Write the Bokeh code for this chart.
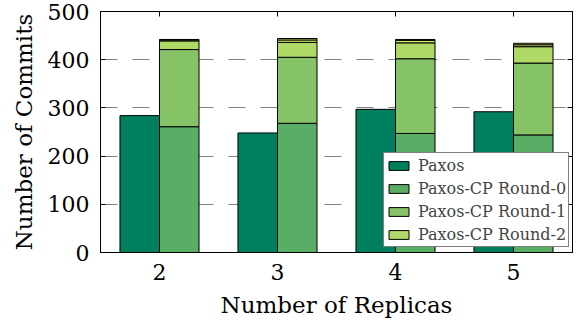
from bokeh.plotting import figure
from bokeh.models import (ColumnDataSource, Range1d, FixedTicker, LinearAxis,
                          Legend, LegendItem, CustomJSTickFormatter)
from bokeh.transform import dodge
from bokeh.embed import file_html
from bokeh.resources import INLINE

# ---- data ----
replicas = [2, 3, 4, 5]
paxos = [284, 248, 297, 292]
cp_round0 = [261, 268, 247, 244]
cp_round1 = [160, 137, 155, 149]
cp_round2 = [18, 31, 33, 34]
cp_round3 = [2, 5, 5, 4]
cp_round4 = [1, 3, 2, 3]
y_ticks = [0, 100, 200, 300, 400, 500]
legend_labels = ["Paxos", "Paxos-CP Round-0", "Paxos-CP Round-1", "Paxos-CP Round-2"]

colors = ["#007f5f", "#5aad64", "#86c366", "#afd966", "#d5ec68", "#eef767"]
FONT = "DejaVu Serif"

src = ColumnDataSource(dict(rep=replicas, paxos=paxos, r0=cp_round0, r1=cp_round1,
                            r2=cp_round2, r3=cp_round3, r4=cp_round4))

p = figure(width=577, height=321, output_backend="svg", toolbar_location=None,
           x_range=Range1d(1.5, 5.5), y_range=Range1d(0, 500),
           min_border_left=100, min_border_right=5, min_border_top=11, min_border_bottom=69)

BW = 0.335
r_paxos = p.vbar(x=dodge("rep", -BW / 2), top="paxos", width=BW, source=src,
                 fill_color=colors[0], line_color="black", line_width=1)
stack = p.vbar_stack(["r0", "r1", "r2", "r3", "r4"], x=dodge("rep", BW / 2), width=BW,
                     source=src, fill_color=colors[1:], line_color="black", line_width=1)

# axes
p.xaxis.ticker = FixedTicker(ticks=replicas)
p.yaxis.ticker = FixedTicker(ticks=y_ticks)
p.xaxis.axis_label = "Number of Replicas"
p.yaxis.axis_label = "Number of Commits"
for ax in (p.xaxis[0], p.yaxis[0]):
    ax.axis_label_text_font = FONT
    ax.axis_label_text_font_size = "23px"
    ax.axis_label_text_font_style = "normal"
    ax.axis_label_text_color = "black"
    ax.major_label_text_font = FONT
    ax.major_label_text_font_size = "22px"
    ax.major_label_text_color = "black"
    ax.major_tick_in = 5
    ax.major_tick_out = 0
    ax.minor_tick_in = 0
    ax.minor_tick_out = 0
    ax.major_tick_line_color = "black"
    ax.axis_line_color = "black"
    ax.axis_line_width = 1
p.xaxis.major_label_standoff = 11
p.xaxis.axis_label_standoff = 9
p.yaxis.major_label_standoff = 11
p.yaxis.axis_label_standoff = 8

blank = CustomJSTickFormatter(code="return ''")
for loc, tick in (("right", y_ticks), ("above", replicas)):
    ax = LinearAxis(ticker=FixedTicker(ticks=tick), formatter=blank,
                    major_label_text_font_size="4px",
                    major_tick_in=5, major_tick_out=0, minor_tick_in=0, minor_tick_out=0,
                    major_label_standoff=0, major_tick_line_color="black",
                    axis_line_color="black")
    p.add_layout(ax, loc)

p.xgrid.grid_line_color = None
p.ygrid.ticker = FixedTicker(ticks=y_ticks[1:-1])
p.ygrid.grid_line_color = "#808080"
p.ygrid.grid_line_width = 1.2
p.ygrid.grid_line_dash = "17 15"
p.outline_line_color = "black"
p.outline_line_width = 1

items = [LegendItem(label=legend_labels[0], renderers=[r_paxos])]
for i in range(3):
    items.append(LegendItem(label=legend_labels[i + 1], renderers=[stack[i]]))
legend = Legend(items=items, location=(283, 5),
                label_text_font=FONT, label_text_font_size="16px",
                glyph_width=25, glyph_height=11, label_height=20, spacing=3,
                padding=2, margin=0, label_standoff=7,
                border_line_color="black", border_line_width=1,
                background_fill_color="white", background_fill_alpha=1)
p.add_layout(legend)

open("out.html", "w").write(file_html(p, INLINE))
